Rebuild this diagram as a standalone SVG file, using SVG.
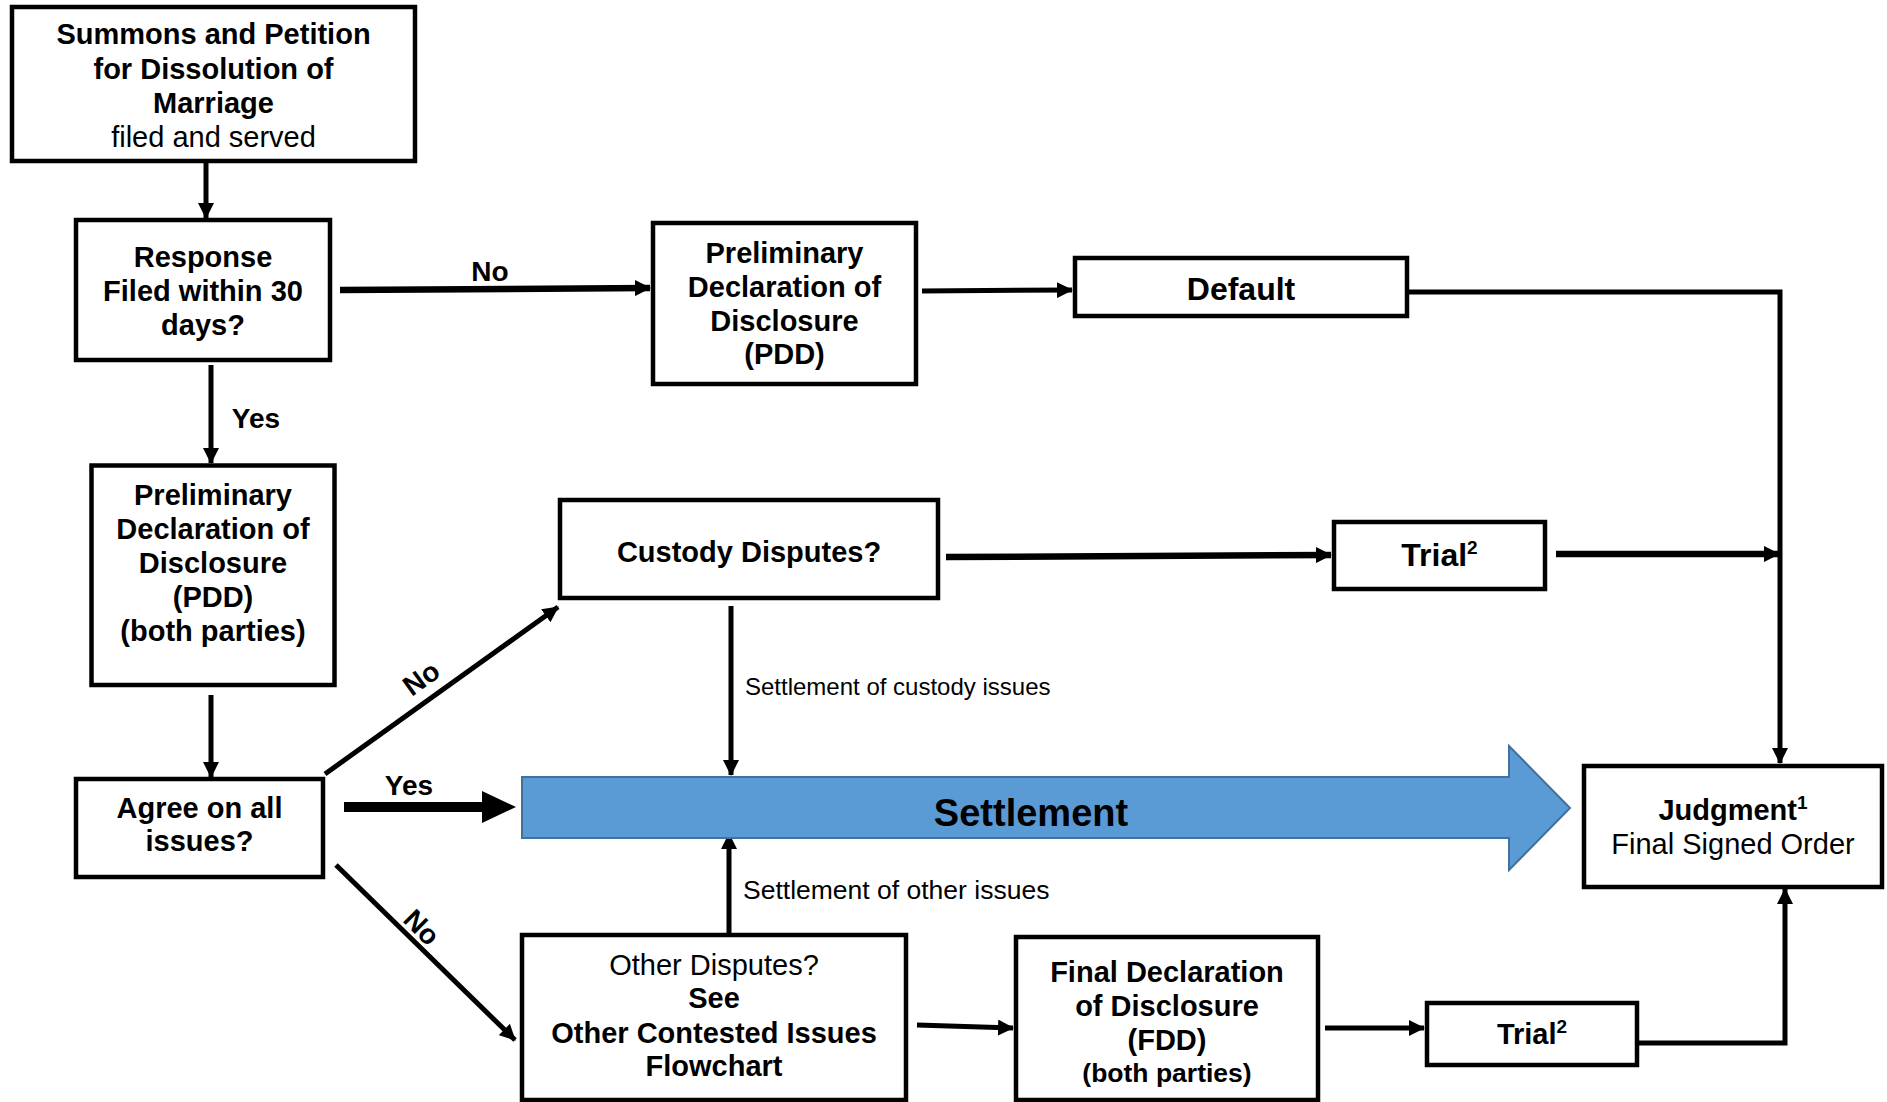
<svg xmlns="http://www.w3.org/2000/svg" width="1887" height="1102" viewBox="0 0 1887 1102">
<style>
  .box{fill:#fff;stroke:#000;stroke-width:4.5}
  .t{font-family:"Liberation Sans",Arial,sans-serif;font-size:29px;fill:#000;text-anchor:middle}
  .b{font-weight:bold}
  .lbl{font-family:"Liberation Sans",Arial,sans-serif;fill:#000}
  .ca{fill:none;stroke:#000;stroke-width:5;marker-end:url(#ah)}
  .cat{fill:none;stroke:#000;stroke-width:6.5;marker-end:url(#ah)}
</style>
<defs>
  <marker id="ah" markerUnits="userSpaceOnUse" markerWidth="16" markerHeight="16" refX="15" refY="8" orient="auto" viewBox="0 0 16 16">
    <path d="M0,0 L16,8 L0,16 z" fill="#000"/>
  </marker>
</defs>
<rect width="1887" height="1102" fill="#fff"/>

<g id="connectors">
  <line class="ca" x1="206" y1="163" x2="206" y2="218"/>
  <line class="cat" x1="340" y1="290" x2="650" y2="288"/>
  <line class="ca" x1="922" y1="291" x2="1072" y2="290"/>
  <polyline class="ca" points="1409,292 1780,292 1780,763"/>
  <line class="ca" x1="211" y1="365" x2="211" y2="463"/>
  <line class="ca" x1="211" y1="695" x2="211" y2="777"/>
  <line class="ca" x1="325" y1="774" x2="558" y2="607"/>
  <line class="ca" x1="336" y1="865" x2="515" y2="1040"/>
  <line class="cat" x1="946" y1="557" x2="1331" y2="555"/>
  <line class="cat" x1="1556" y1="554" x2="1779" y2="554"/>
  <line class="ca" x1="731" y1="606" x2="731" y2="775"/>
  <line class="ca" x1="729" y1="933" x2="729" y2="834"/>
  <line class="ca" x1="917" y1="1025" x2="1013" y2="1028"/>
  <line class="ca" x1="1325" y1="1028" x2="1424" y2="1028"/>
  <polyline class="ca" points="1639,1043 1785,1043 1785,889"/>
  <g id="yes-arrow">
    <line x1="344" y1="807" x2="484" y2="807" stroke="#000" stroke-width="10"/>
    <polygon points="482,791 516,807 482,823" fill="#000"/>
  </g>
  <text class="lbl" x="490" y="281" font-size="28" text-anchor="middle" font-weight="bold">No</text>
  <text class="lbl" x="256" y="428" font-size="28" text-anchor="middle" font-weight="bold">Yes</text>
  <text class="lbl" transform="translate(421,678) rotate(-36)" y="10" font-size="28" text-anchor="middle" font-weight="bold">No</text>
  <text class="lbl" x="409" y="795" font-size="28" text-anchor="middle" font-weight="bold">Yes</text>
  <text class="lbl" transform="translate(422,927) rotate(45)" y="10" font-size="28" text-anchor="middle" font-weight="bold">No</text>
  <text class="lbl" x="745" y="695" font-size="24">Settlement of custody issues</text>
  <text class="lbl" x="743" y="899" font-size="26.5">Settlement of other issues</text>
</g>

<g id="settlement">
  <polygon points="522,777 1509,777 1509,746 1570,808 1509,870 1509,838 522,838" fill="#5B9BD5" stroke="#41719C" stroke-width="2"/>
  <text class="lbl" x="1031" y="826" font-size="38" font-weight="bold" text-anchor="middle">Settlement</text>
</g>

<g id="summons">
  <rect class="box" x="12" y="7" width="403" height="154"/>
  <text class="t b" x="213.5" y="44">Summons and Petition</text>
  <text class="t b" x="213.5" y="78.5">for Dissolution of</text>
  <text class="t b" x="213.5" y="112.5">Marriage</text>
  <text class="t" x="213.5" y="147">filed and served</text>
</g>

<g id="response">
  <rect class="box" x="76" y="220" width="254" height="140"/>
  <text class="t b" x="203" y="267">Response</text>
  <text class="t b" x="203" y="301">Filed within 30</text>
  <text class="t b" x="203" y="335">days?</text>
</g>

<g id="pdd-default">
  <rect class="box" x="653" y="223" width="263" height="161"/>
  <text class="t b" x="784.5" y="263">Preliminary</text>
  <text class="t b" x="784.5" y="297">Declaration of</text>
  <text class="t b" x="784.5" y="330.5">Disclosure</text>
  <text class="t b" x="784.5" y="364">(PDD)</text>
</g>

<g id="default">
  <rect class="box" x="1075" y="258" width="332" height="58"/>
  <text class="t b" x="1241" y="300" style="font-size:32px">Default</text>
</g>

<g id="pdd-both">
  <rect class="box" x="91.5" y="465.5" width="243" height="219.5"/>
  <text class="t b" x="213" y="505">Preliminary</text>
  <text class="t b" x="213" y="539">Declaration of</text>
  <text class="t b" x="213" y="573">Disclosure</text>
  <text class="t b" x="213" y="607">(PDD)</text>
  <text class="t b" x="213" y="641">(both parties)</text>
</g>

<g id="agree">
  <rect class="box" x="76" y="779" width="247" height="98"/>
  <text class="t b" x="199.5" y="817.5">Agree on all</text>
  <text class="t b" x="199.5" y="851">issues?</text>
</g>

<g id="custody">
  <rect class="box" x="560" y="500" width="378" height="98"/>
  <text class="t b" x="749" y="562">Custody Disputes?</text>
</g>

<g id="trial-custody">
  <rect class="box" x="1334" y="522" width="211" height="67"/>
  <text class="t b" x="1439.5" y="566" style="font-size:32px">Trial<tspan style="font-size:19px" dy="-12">2</tspan></text>
</g>

<g id="judgment">
  <rect class="box" x="1584" y="766" width="298" height="121"/>
  <text class="t b" x="1733" y="820">Judgment<tspan style="font-size:19px" dy="-11">1</tspan></text>
  <text class="t" x="1733" y="854">Final Signed Order</text>
</g>

<g id="other">
  <rect class="box" x="522" y="935" width="384" height="165"/>
  <text class="t" x="714" y="975">Other Disputes?</text>
  <text class="t b" x="714" y="1008">See</text>
  <text class="t b" x="714" y="1042.5">Other Contested Issues</text>
  <text class="t b" x="714" y="1076">Flowchart</text>
</g>

<g id="fdd">
  <rect class="box" x="1016" y="937" width="302" height="163"/>
  <text class="t b" x="1167" y="982">Final Declaration</text>
  <text class="t b" x="1167" y="1016">of Disclosure</text>
  <text class="t b" x="1167" y="1050">(FDD)</text>
  <text class="t b" x="1167" y="1082" style="font-size:26.5px">(both parties)</text>
</g>

<g id="trial-other">
  <rect class="box" x="1427" y="1003" width="210" height="62"/>
  <text class="t b" x="1532" y="1044">Trial<tspan style="font-size:19px" dy="-11">2</tspan></text>
</g>
</svg>
